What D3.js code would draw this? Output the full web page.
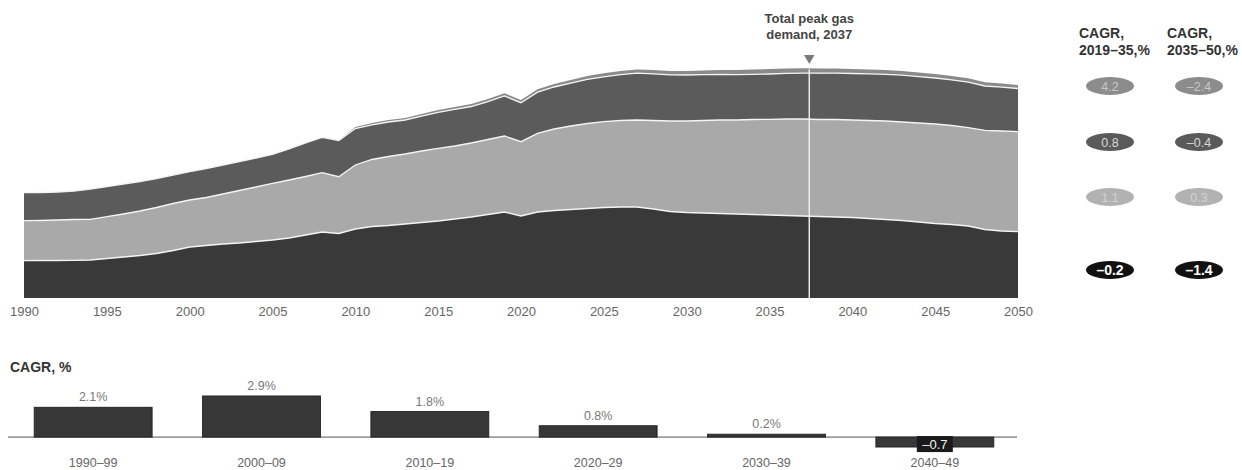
<!DOCTYPE html>
<html>
<head>
<meta charset="utf-8">
<script src="https://cdn.jsdelivr.net/npm/d3@7/dist/d3.min.js"></script>
<style>
  html, body { margin: 0; padding: 0; background: #ffffff; }
  svg { display: block; font-family: "Liberation Sans", Arial, sans-serif; }
</style>
</head>
<body>
<svg id="chart" width="1242" height="470"></svg>
<script>
// Gas demand by segment, 1990–2050 (stacked, bottom to top)
const years = d3.range(1990, 2051);

const segBase = [
  37.3,37.5,37.5,37.7,38,39.5,41,42.5,44.5,47.5,
  51,52.5,54,55,56.5,58,60,63,66,64.5,
  69,71.5,72.5,74,75.5,77,79,81,83.5,86,
  82,86,87.5,88.5,89.5,90.5,91,91,89,86.5,
  85.5,85,84.5,84,83.5,83,82.5,82,81.5,81,
  80.5,79.5,78.5,77.5,76,74.5,73.5,72,68.5,67,
  66.3
];
const segLight = [
  40,40,40.5,40.8,40.7,41.8,43,44.5,46,47,
  47,48,50,52.5,54.5,56.7,58,58.5,59.3,56.8,
  64,67,69,70,71.5,72.7,73,74,75,76,
  74.3,78.7,81.5,83.5,85,85.8,86.5,87,88.5,90.5,
  91.5,92.5,93.5,94,95,95.7,96.5,97,97,97.5,
  97.5,98,98.5,98.5,99,99.5,99,98.3,99.2,100,
  100
];
const segDark = [
  28,28,28,28.5,30.3,30,30,29.5,29,28.5,
  28.3,29,29,29,29,29,31,33.5,35.4,36.2,
  36.5,34.7,34.5,34,34.8,36,36.6,36.5,37.9,40,
  39,41.1,42,42.8,44.1,44.9,45.9,46.8,46.7,46.1,
  46,45.8,45.6,45.4,45.2,45.3,45.6,45.9,46.3,46.4,
  46.5,46.6,46.7,46.8,46.4,46,45.6,45.6,44.3,43.9,
  43.2
];
const segTop = [
  0,0,0,0,0,0,0,0,0,0,
  0,0,0,0,0,0,0,0,0,0,
  1.5,1.8,2,2,2.2,2.3,2.4,2.5,2.6,2.7,
  2.8,2.9,3,3.2,3.4,3.5,3.6,3.7,3.8,3.9,
  4,4.2,4.4,4.6,4.8,5,4.9,4.8,4.7,4.6,
  4.5,4.4,4.3,4.2,4.1,4,3.9,3.8,3.7,3.6,
  3.5
];

const axisYears = d3.range(1990, 2051, 5);
const peakYear = 2037.4;
const peakLabel = ["Total peak gas", "demand, 2037"];

// CAGR callouts per segment (top segment first)
const cagrHeads = [["CAGR,", "2019–35,%"], ["CAGR,", "2035–50,%"]];
const cagrEarly = ["4.2", "0.8", "1.1", "–0.2"];
const cagrLate = ["–2.4", "–0.4", "0.3", "–1.4"];

// Decade CAGR bars
const decades = ["1990–99", "2000–09", "2010–19", "2020–29", "2030–39", "2040–49"];
const decadeCagr = [2.1, 2.9, 1.8, 0.8, 0.2, -0.7];

const svg = d3.select("#chart");

// ---------- stacked area ----------
const keys = ["base", "light", "dark", "top"];
const colors = { base: "#393939", light: "#a9a9a9", dark: "#5b5b5b", top: "#8a8a8a" };
const rows = years.map((y, i) => ({
  year: y, base: segBase[i], light: segLight[i], dark: segDark[i], top: segTop[i]
}));
const series = d3.stack().keys(keys)(rows);

const x = d3.scaleLinear().domain([1990, 2050]).range([24, 1018]);
const y = d3.scaleLinear().domain([0, 250]).range([298, 48]);

const area = d3.area()
  .x(d => x(d.data.year))
  .y0(d => y(d[0]))
  .y1(d => y(d[1]));

svg.append("g").selectAll("path")
  .data(series)
  .join("path")
  .attr("fill", d => colors[d.key])
  .attr("d", area);

// white separators between segments
const edge = d3.line().x(d => x(d.data.year)).y(d => y(d[1]));
svg.append("g").selectAll("path")
  .data(series.slice(0, 3))
  .join("path")
  .attr("fill", "none")
  .attr("stroke", "#f4f4f4")
  .attr("stroke-width", 1.3)
  .attr("d", edge);

// peak marker
const totalAt = yr => {
  const i = years.indexOf(Math.round(yr));
  return segBase[i] + segLight[i] + segDark[i] + segTop[i];
};
svg.append("line")
  .attr("x1", x(peakYear)).attr("x2", x(peakYear))
  .attr("y1", y(totalAt(peakYear)) + 1).attr("y2", y(0))
  .attr("stroke", "#f2f2f2").attr("stroke-width", 1.4);
svg.append("path")
  .attr("d", d3.symbol().type(d3.symbolTriangle).size(48)())
  .attr("transform", `translate(${x(peakYear)},${58}) rotate(180)`)
  .attr("fill", "#7a7a7a");
svg.append("text")
  .attr("x", x(peakYear)).attr("y", 23)
  .attr("text-anchor", "middle")
  .attr("font-size", 13).attr("font-weight", "bold").attr("fill", "#444")
  .selectAll("tspan").data(peakLabel).join("tspan")
  .attr("x", x(peakYear)).attr("dy", (d, i) => i ? 16 : 0)
  .text(d => d);

// year axis
const xAxis = d3.axisBottom(x)
  .tickValues(axisYears)
  .tickFormat(d3.format("d"))
  .tickSize(0).tickPadding(9);
const gx = svg.append("g").attr("transform", `translate(0,${y(0)})`).call(xAxis);
gx.select(".domain").remove();
gx.selectAll("text")
  .attr("font-family", "'Liberation Sans', Arial, sans-serif")
  .attr("font-size", 13).attr("fill", "#666");

// ---------- CAGR callouts ----------
const colX = [1079, 1167];
const ellX = [1110, 1199];
const rowY = [86, 142, 197, 270];
const ellFill = ["#8c8c8c", "#5a5a5a", "#b2b2b2", "#111111"];
const ellText = ["#c9c9c9", "#d9d9d9", "#d2d2d2", "#ffffff"];

cagrHeads.forEach((h, c) => {
  svg.append("text")
    .attr("x", colX[c]).attr("y", 38)
    .attr("font-size", 14).attr("font-weight", "bold").attr("fill", "#333")
    .selectAll("tspan").data(h).join("tspan")
    .attr("x", colX[c]).attr("dy", (d, i) => i ? 17 : 0)
    .text(d => d);
});

[cagrEarly, cagrLate].forEach((vals, c) => {
  const g = svg.append("g");
  vals.forEach((v, r) => {
    g.append("ellipse")
      .attr("cx", ellX[c]).attr("cy", rowY[r])
      .attr("rx", 24).attr("ry", 9)
      .attr("fill", ellFill[r]);
    g.append("text")
      .attr("x", ellX[c]).attr("y", rowY[r] + 4.5)
      .attr("text-anchor", "middle")
      .attr("font-size", r === 3 ? 14 : 12.5)
      .attr("font-weight", r === 3 ? "bold" : "normal")
      .attr("fill", ellText[r])
      .text(v);
  });
});

// ---------- decade CAGR bars ----------
svg.append("text")
  .attr("x", 10).attr("y", 372)
  .attr("font-size", 14).attr("font-weight", "bold").attr("fill", "#333")
  .text("CAGR, %");

const bx = d3.scaleBand().domain(decades).range([9, 1019])
  .paddingInner(0.3).paddingOuter(0.15);
const by = d3.scaleLinear().domain([-0.7, 2.9]).range([447, 396]);

svg.append("line")
  .attr("x1", 8).attr("x2", 1017)
  .attr("y1", by(0)).attr("y2", by(0))
  .attr("stroke", "#555").attr("stroke-width", 1);

svg.append("g").selectAll("rect")
  .data(decades)
  .join("rect")
  .attr("x", d => bx(d))
  .attr("width", bx.bandwidth())
  .attr("y", (d, i) => by(Math.max(0, decadeCagr[i])))
  .attr("height", (d, i) => Math.abs(by(decadeCagr[i]) - by(0)))
  .attr("fill", "#383838")
  .attr("stroke", "#262626").attr("stroke-width", 1);

// value labels
decades.forEach((d, i) => {
  const v = decadeCagr[i];
  const cx = bx(d) + bx.bandwidth() / 2;
  if (v >= 0) {
    svg.append("text")
      .attr("x", cx).attr("y", by(v) - 6)
      .attr("text-anchor", "middle")
      .attr("font-size", 12.5).attr("fill", "#777")
      .text(d3.format(".1f")(v) + "%");
  } else {
    svg.append("rect")
      .attr("x", cx - 18).attr("y", by(0) - 1)
      .attr("width", 36).attr("height", 16)
      .attr("fill", "#1a1a1a");
    svg.append("text")
      .attr("x", cx).attr("y", by(0) + 12)
      .attr("text-anchor", "middle")
      .attr("font-size", 13).attr("fill", "#f2f2f2")
      .text("–" + d3.format(".1f")(Math.abs(v)));
  }
  svg.append("text")
    .attr("x", cx).attr("y", 467)
    .attr("text-anchor", "middle")
    .attr("font-size", 12.5).attr("fill", "#666")
    .text(d);
});
</script>
</body>
</html>
